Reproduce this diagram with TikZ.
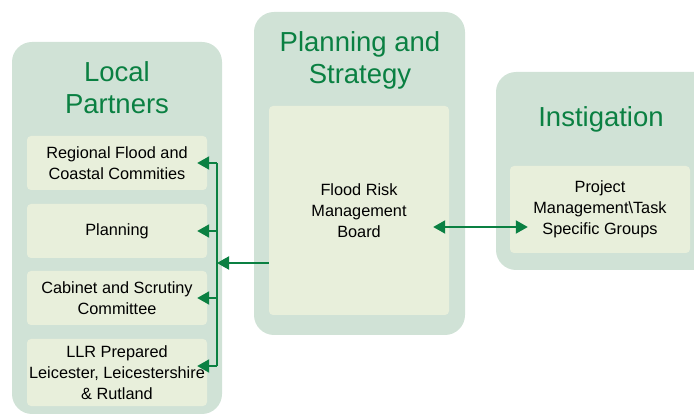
\documentclass[tikz,border=0pt]{standalone}
\usepackage{fontspec}
\setmainfont{Liberation Sans}
\usetikzlibrary{arrows.meta,positioning}
\definecolor{panelgrey}{RGB}{208,226,214}
\definecolor{boxfill}{RGB}{232,239,219}
\definecolor{frmgreen}{RGB}{10,128,66}

\tikzset{
  panel/.style={fill=panelgrey, rounded corners=20pt},
  item/.style={fill=boxfill, rounded corners=4pt, minimum width=180pt, align=center, inner sep=1pt, font=\fontsize{16.3}{20.8}\selectfont},
  heading/.style={text=frmgreen, align=center, font=\fontsize{27.5}{32}\selectfont},
  link/.style={draw=frmgreen, line width=2pt, -{Triangle[length=12pt,width=13pt]}},
  duplex/.style={link, {Triangle[length=12pt,width=13pt]}-{Triangle[length=12pt,width=13pt]}},
}

\begin{document}
\begin{tikzpicture}[x=1pt,y=-1pt]
			\useasboundingbox (0,0) rectangle (694,414);
			
			%%%%% PANELS %%%%%
			\fill[panel] (12,42) rectangle (222,414);
			\fill[panel] (254,12) rectangle (465,335);
			\fill[panel] (496,72) rectangle (716,270);
			
			\node[heading] (lptitle) at (117,88) {Local\\Partners};
			\node[heading] (pstitle) at (360,60) {Planning and\\Strategy};
			\node[heading] (intitle) at (601,119) {Instigation};
			
			%%%%% BOXES %%%%%
			\node[item, minimum height=54pt] (rfc) at (117,163) {Regional Flood and\\Coastal Commities};
			\node[item, minimum height=54pt] (plan) at (117,231) {Planning};
			\node[item, minimum height=54pt] (csc) at (117,298) {Cabinet and Scrutiny\\Committee};
			\node[item, minimum height=67pt] (llr) at (117,372.5) {LLR Prepared\\Leicester, Leicestershire\\\& Rutland};
			
			\node[item, minimum height=209pt] (frmb) at (359,210.5) {Flood Risk\\Management\\Board};
			\node[item, minimum height=87pt] (pmt) at (600,209.5) {Project\\Management\textbackslash Task\\Specific Groups};
			
			%%%%% ARROWS %%%%%
			\coordinate (bus) at (217,263);
			\coordinate (llrin) at ([yshift=6.5pt]llr.east);
			\coordinate (duo) at ([xshift=-16pt,yshift=-16.5pt]frmb.east);
			\draw[frmgreen, line width=2pt] (bus |- rfc.east) -- (bus |- llrin);
			\draw[link] (frmb.west |- bus) -- (bus);
			\foreach \b in {rfc.east, plan.east, csc.east, llrin}
				\draw[link, shorten >=-10pt] (bus |- \b) -- (\b);
			
			\draw[duplex, shorten >=-18pt] (duo) -- (duo -| pmt.west);
			
		\end{tikzpicture}
\end{document}
